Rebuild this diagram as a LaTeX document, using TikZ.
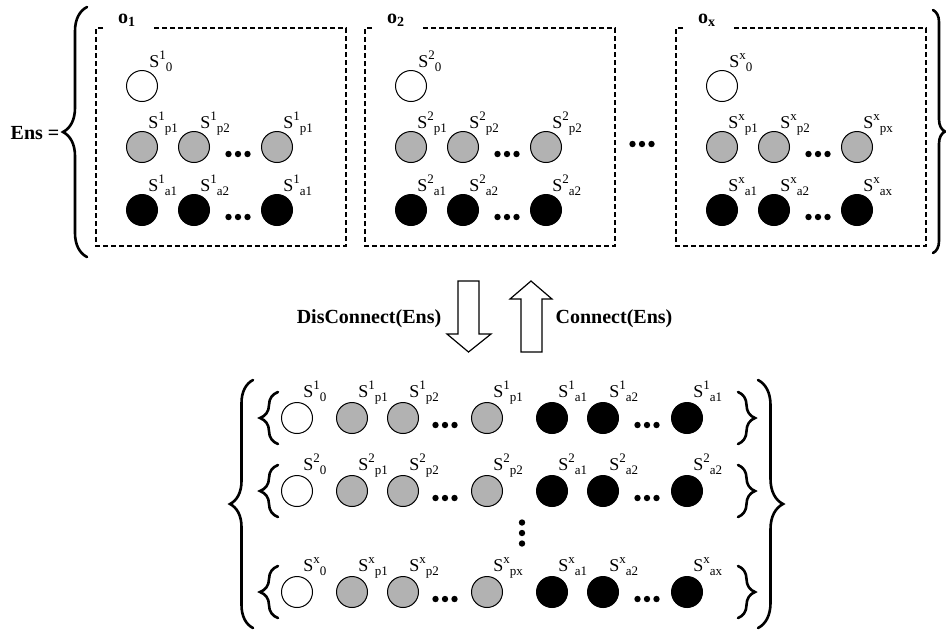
\documentclass[tikz,border=0pt]{standalone}
\usepackage{fontspec}
\setmainfont{Liberation Serif}
\usetikzlibrary{decorations.pathreplacing}

% state label: S, index of the object above, kind of state below
\newcommand{\stlbl}[2]{S\raisebox{3.6pt}{\fontsize{6.5}{8}\selectfont #1}\raisebox{-2pt}{\fontsize{6.5}{8}\selectfont #2}}

\begin{document}
\begin{tikzpicture}[x=0.5pt,y=-0.5pt,
    state/.style={circle, draw, line width=0.5pt, minimum size=15.5pt, inner sep=0pt},
    free/.style={state, fill=white},
    pas/.style={state, fill=black!30},
    act/.style={state, fill=black},
    slbl/.style={anchor=base west, inner sep=0pt, font=\fontsize{9}{10}\selectfont},
    btxt/.style={inner sep=1pt, font=\fontsize{10}{12}\selectfont\bfseries},
    box/.style={line width=0.7pt, dash pattern=on 2.5pt off 1.5pt},
    brc/.style={decorate, decoration={brace, amplitude=#1}, line width=1.3pt, line cap=round},
    blk/.style={draw, line width=0.6pt, line join=miter}]

    \useasboundingbox (0,0) rectangle (946,629);

    % --- Top: the ensemble of objects ---
    \node[btxt] (ens) at (35,133) {Ens =};
    \draw[brc=12pt] (87,257) -- (87,7);
    \draw[brc=6pt] (933,10) -- (933,253);

    \foreach \bx/\k/\pa/\pb/\pc/\aa/\ab/\ac in {96/1/p1/p2/p1/a1/a2/a1, 365/2/p1/p2/p2/a1/a2/a2, 676/x/p1/p2/px/a1/a2/ax} {
        % dashed frame with its name
        \draw[box] ({\bx+7},28) -- (\bx,28) -- (\bx,246) -- ({\bx+250},246) -- ({\bx+250},28) -- ({\bx+55},28);
        \node[btxt] (o\k) at ({\bx+31},20) {o\textsubscript{\k}};
        % free state
        \node[free] (f\k) at ({\bx+46},86) {};
        \node[slbl] (lf\k) at ({\bx+53},67) {\stlbl{\k}{0}};
        % passive states
        \foreach \cx/\sb [count=\i] in {46/\pa, 98/\pb, 181/\pc} {
            \node[pas] (p\k\i) at ({\bx+\cx},147) {};
            \node[slbl] (lp\k\i) at ({\bx+\cx+6},128) {\stlbl{\k}{\sb}};
        }
        % active states
        \foreach \cx/\sb [count=\i] in {46/\aa, 98/\ab, 181/\ac} {
            \node[act] (a\k\i) at ({\bx+\cx},210) {};
            \node[slbl] (la\k\i) at ({\bx+\cx+6},191) {\stlbl{\k}{\sb}};
        }
        \foreach \d in {-1,0,1} {
            \fill ({\bx+142+9.5*\d},154) circle (1.6pt);
            \fill ({\bx+142+9.5*\d},217) circle (1.6pt);
        }
    }
    \foreach \d in {-1,0,1}
        \fill ({642+9.5*\d},144) circle (1.6pt);

    % --- Block arrows ---
    \draw[blk] (458,281) -- (479,281) -- (479,334) -- (491,334) -- (468.5,352) -- (447,334) -- (458,334) -- cycle;
    \draw[blk] (521,352) -- (542,352) -- (542,299) -- (552,299) -- (531,281) -- (510,299) -- (521,299) -- cycle;
    \node[btxt] (dis) at (369,319) {DisConnect(Ens)};
    \node[btxt] (con) at (614,319) {Connect(Ens)};

    % --- Bottom: one set per object ---
    \draw[brc=11.5pt] (253,628) -- (253,380);
    \draw[brc=12.5pt] (758,380) -- (758,628);

    \foreach \k/\y/\pc/\ac in {1/418/p1/a1, 2/491/p2/a2, x/592/px/ax} {
        \draw[brc=9pt] (278,{\y+26}) -- (278,{\y-26});
        \draw[brc=8.5pt] (738,{\y-26}) -- (738,{\y+26});
        \node[free] (rf\k) at (297,\y) {};
        \node[slbl] (rlf\k) at (303,{\y-21}) {\stlbl{\k}{0}};
        \foreach \cx/\sb [count=\i] in {352/p1, 403/p2, 487/\pc} {
            \node[pas] (rp\k\i) at (\cx,\y) {};
            \node[slbl] (rlp\k\i) at ({\cx+6},{\y-21}) {\stlbl{\k}{\sb}};
        }
        \foreach \cx/\sb [count=\i] in {552/a1, 603/a2, 687/\ac} {
            \node[act] (ra\k\i) at (\cx,\y) {};
            \node[slbl] (rla\k\i) at ({\cx+6},{\y-21}) {\stlbl{\k}{\sb}};
        }
        \foreach \d in {-1,0,1} {
            \fill ({445+9.5*\d},{\y+7}) circle (1.6pt);
            \fill ({647+9.5*\d},{\y+7}) circle (1.6pt);
        }
    }
    \foreach \d in {-1,0,1}
        \fill (522,{533+10.5*\d}) circle (1.6pt);

\end{tikzpicture}
\end{document}
